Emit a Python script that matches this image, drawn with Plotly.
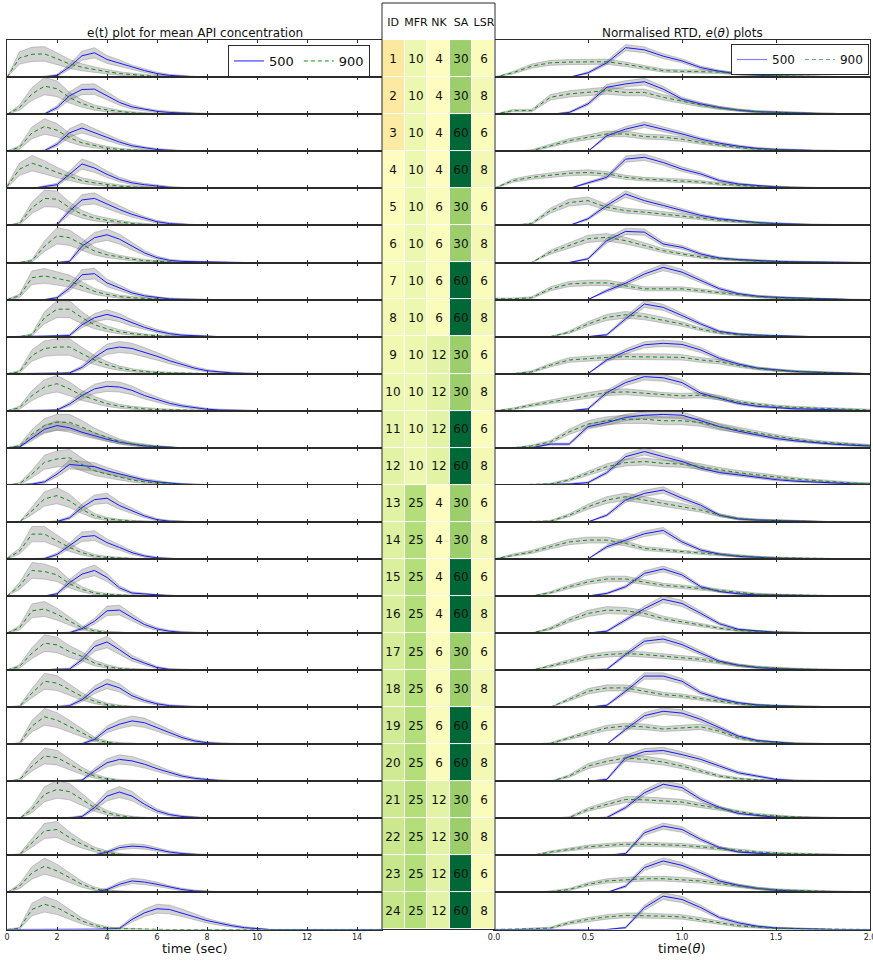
import plotly.graph_objects as go

# ---------------- data ----------------
# time grids (left: seconds, right: normalised time theta)
T_SEC = [i * 0.5 for i in range(31)]          # 0 .. 15 s
THETA = [round(i * 0.1, 1) for i in range(21)]  # 0 .. 2.0

# e(t), percent of panel height, sampled at t = 0, 0.5, ..., 10 s (zero afterwards)
ET_500 = [
    [0,0,0,1,5,28,58,66,48,38,26,18,10,5,3,1,0,0,0,0,0],
    [0,0,0,1,18,50,67,68,50,32,20,13,8,5,3,2,1,0,0,0,0],
    [0,0,0,2,19,50,63,50,37,25,15,9,5,3,1,0,0,0,0,0,0],
    [0,0,0,5,10,38,66,55,38,24,15,10,6,3,1,0,0,0,0,0,0],
    [0,0,0,0,2,39,69,73,57,43,30,19,10,5,3,1,0,0,0,0,0],
    [0,0,0,0,0,3,44,67,75,63,44,26,13,6,3,2,1,0,0,0,0],
    [0,0,0,0,5,31,67,70,45,31,18,10,5,2,1,0,0,0,0,0,0],
    [0,0,0,0,2,3,32,51,60,51,37,25,15,8,4,2,1,0,0,0,0],
    [0,0,0,0,0,2,17,44,66,72,68,58,47,35,24,15,8,4,2,1,0],
    [0,0,0,0,2,18,41,59,66,64,55,41,30,20,13,8,4,2,1,0,0],
    [0,2,26,50,60,54,42,32,23,15,9,5,3,1,0,0,0,0,0,0,0],
    [0,0,2,8,29,55,52,49,38,29,20,13,8,4,2,1,0,0,0,0,0],
    [0,0,0,0,1,11,39,60,64,44,30,16,6,2,1,0,0,0,0,0,0],
    [0,0,0,1,12,35,60,63,44,31,17,8,3,1,0,0,0,0,0,0,0],
    [0,0,0,0,6,36,59,69,50,22,8,5,2,1,0,0,0,0,0,0,0],
    [0,0,0,0,0,1,12,32,60,62,42,23,11,5,2,1,0,0,0,0,0],
    [0,0,0,0,2,3,28,64,76,55,32,19,7,2,1,0,0,0,0,0,0],
    [0,0,0,0,1,4,20,47,63,52,31,18,9,4,2,1,0,0,0,0,0],
    [0,0,0,0,0,0,1,13,40,54,63,58,45,31,18,9,4,2,1,0,0],
    [0,0,0,0,0,1,3,28,50,59,55,46,34,23,14,8,4,2,1,0,0],
    [0,0,0,0,0,1,5,29,60,71,60,38,20,10,5,2,1,0,0,0,0],
    [0,0,0,0,0,0,0,1,9,21,25,23,16,9,5,2,1,0,0,0,0],
    [0,0,0,0,0,0,0,1,8,22,31,28,22,14,8,4,2,1,0,0,0],
    [0,0,0,0,0,0,0,0,1,3,27,45,56,54,45,34,24,16,10,5,2],
]
ET_900 = [
    [0,52,62,63,50,36,27,20,15,10,7,4,2,1,1,0,0,0,0,0,0],
    [0,18,55,76,69,45,29,18,12,7,4,2,1,0,0,0,0,0,0,0,0],
    [0,11,50,67,57,37,23,15,9,5,3,2,1,0,0,0,0,0,0,0,0],
    [5,52,68,57,43,31,21,15,10,6,4,2,1,0,0,0,0,0,0,0,0],
    [0,5,48,73,71,48,30,20,14,9,5,3,1,0,0,0,0,0,0,0,0],
    [0,0,5,44,72,67,49,31,21,14,9,5,3,1,0,0,0,0,0,0,0],
    [0,10,59,64,57,50,36,22,14,8,5,3,1,0,0,0,0,0,0,0,0],
    [0,0,5,51,74,74,51,32,21,13,8,4,2,1,0,0,0,0,0,0,0],
    [0,5,49,68,72,72,54,37,24,15,9,5,3,2,1,0,0,0,0,0,0],
    [0,8,41,64,73,59,41,29,19,12,8,5,3,2,1,0,0,0,0,0,0],
    [0,5,37,60,69,69,56,40,28,17,10,6,3,1,0,0,0,0,0,0,0],
    [0,3,29,61,70,73,55,38,29,20,13,8,5,2,1,0,0,0,0,0,0],
    [0,0,30,62,71,57,34,16,8,4,2,1,0,0,0,0,0,0,0,0,0],
    [1,21,67,67,49,31,17,8,4,2,1,0,0,0,0,0,0,0,0,0,0],
    [0,27,69,66,57,33,18,8,4,2,1,0,0,0,0,0,0,0,0,0,0],
    [0,14,60,65,51,32,14,6,2,1,0,0,0,0,0,0,0,0,0,0,0],
    [0,10,46,73,68,50,37,19,10,4,2,1,0,0,0,0,0,0,0,0,0],
    [0,2,38,70,65,47,29,16,7,3,1,0,0,0,0,0,0,0,0,0,0],
    [0,2,49,74,65,49,31,13,5,2,1,0,0,0,0,0,0,0,0,0,0],
    [0,4,41,68,64,46,28,14,6,2,1,0,0,0,0,0,0,0,0,0,0],
    [0,0,24,65,78,72,51,29,15,7,3,1,0,0,0,0,0,0,0,0,0],
    [0,2,34,66,70,48,30,16,8,3,1,0,0,0,0,0,0,0,0,0,0],
    [0,17,53,71,58,40,22,10,4,2,1,0,0,0,0,0,0,0,0,0,0],
    [0,3,54,68,59,41,23,11,4,2,1,0,0,0,0,0,0,0,0,0,0],
]

# e(theta), percent of panel height, sampled at theta = 0, 0.1, ..., 2.0
ETH_500 = [
    [0,0,0,0,0,12,39,80,74,57,44,26,16,9,5,3,2,1,0,0,0],
    [0,0,0,0,5,28,73,82,88,68,41,28,18,11,7,5,3,2,1,0,0],
    [0,0,0,0,0,0,42,60,72,60,47,33,22,14,8,5,3,2,1,0,0],
    [0,0,0,0,0,15,30,79,84,70,52,39,21,12,7,4,2,1,0,0,0],
    [0,0,0,0,0,18,54,85,67,54,40,27,18,12,8,5,3,2,1,0,0],
    [0,0,0,0,0,10,59,84,82,50,41,23,12,8,5,3,2,1,0,0,0],
    [0,0,0,0,0,0,24,44,69,87,74,51,29,16,9,6,4,2,1,0,0],
    [0,0,0,0,0,0,5,48,88,79,57,34,14,7,4,2,1,0,0,0,0],
    [0,0,0,0,0,0,37,60,78,82,79,64,41,26,15,10,6,4,2,1,0],
    [0,0,0,0,0,5,49,76,92,89,76,47,33,20,12,8,5,4,2,1,0],
    [0,0,0,10,10,57,68,82,88,90,88,73,57,45,34,25,19,14,10,7,5],
    [0,0,0,0,2,6,33,76,90,76,63,45,33,27,20,14,10,7,5,3,2],
    [0,0,0,0,0,0,18,59,77,86,64,45,18,8,5,3,2,1,0,0,0],
    [0,0,0,0,0,0,33,51,68,77,46,24,13,7,4,2,1,0,0,0,0],
    [0,0,0,0,0,0,7,25,61,73,57,25,12,6,3,2,1,0,0,0,0],
    [0,0,0,0,0,0,5,35,66,91,80,53,25,10,5,2,1,0,0,0,0],
    [0,0,0,0,0,0,2,42,78,84,69,46,24,13,7,4,2,1,0,0,0],
    [0,0,0,0,0,0,5,43,84,84,70,39,23,12,6,3,2,1,0,0,0],
    [0,0,0,0,0,0,0,40,77,89,84,67,44,22,10,5,2,1,0,0,0],
    [0,0,0,0,0,0,5,63,80,83,72,59,41,23,14,5,2,1,0,0,0],
    [0,0,0,0,0,0,2,29,69,92,83,51,29,13,7,3,2,1,0,0,0],
    [0,0,0,0,0,0,0,5,61,79,70,43,21,9,5,3,2,1,0,0,0],
    [0,0,0,0,0,0,0,17,67,85,73,53,31,19,11,6,3,2,1,0,0],
    [0,0,0,0,0,0,0,5,59,90,81,59,32,18,9,4,2,1,0,0,0],
]
ETH_900 = [
    [0,12,30,39,41,42,42,35,26,18,16,16,14,9,6,4,3,2,1,1,0],
    [0,10,10,46,55,59,64,59,59,46,35,25,17,11,7,5,3,2,1,0,0],
    [0,0,2,15,29,38,47,47,40,38,33,24,16,10,6,4,2,1,0,0,0],
    [0,21,30,36,41,43,39,30,25,23,21,17,12,8,5,3,2,1,0,0,0],
    [0,0,5,40,62,67,49,40,36,31,27,20,14,10,6,4,2,1,0,0,0],
    [0,0,0,28,46,64,68,59,46,32,23,15,10,6,4,2,1,0,0,0,0],
    [2,2,5,29,42,45,45,38,29,29,29,24,18,12,8,5,3,2,1,0,0],
    [0,0,0,0,12,34,52,59,54,45,34,20,10,5,3,1,0,0,0,0,0],
    [0,0,5,23,37,41,44,46,46,46,44,37,32,22,14,9,6,4,2,1,0],
    [0,5,15,24,33,42,49,51,47,42,40,42,35,24,17,12,9,7,5,3,2],
    [0,0,5,16,43,64,73,77,77,73,73,68,57,48,39,30,23,17,13,9,6],
    [0,0,0,2,13,31,49,60,63,58,56,49,40,33,27,21,16,12,8,5,3],
    [0,0,0,2,18,41,59,68,59,50,43,32,18,9,5,3,2,1,0,0,0],
    [0,10,19,33,46,51,51,42,28,24,19,16,12,8,5,3,2,1,0,0,0],
    [0,0,0,9,25,38,46,46,38,29,25,20,14,9,5,3,2,1,0,0,0],
    [0,0,0,12,35,53,62,60,53,39,30,21,13,7,4,2,1,0,0,0,0],
    [0,0,0,11,24,36,42,45,42,38,33,29,21,13,8,5,3,2,1,0,0],
    [0,0,0,0,21,43,52,52,43,34,30,23,15,9,5,3,2,1,0,0,0],
    [0,0,0,2,17,31,44,49,47,41,44,47,35,17,8,4,2,1,0,0,0],
    [0,0,0,0,14,41,54,63,59,52,41,28,14,7,3,1,0,0,0,0,0],
    [0,0,0,0,2,24,38,51,50,47,44,35,26,17,10,6,3,2,1,0,0],
    [0,0,0,9,16,23,27,30,30,29,27,23,18,13,9,6,4,3,2,1,0],
    [0,0,0,2,8,22,31,35,37,37,35,31,24,17,11,7,5,3,2,1,0],
    [0,0,2,4,18,27,34,38,38,36,34,27,18,10,6,3,2,1,0,0,0],
]

# relative / absolute spread of the grey uncertainty bands (fraction of panel)
BAND_SPREAD = {"et500": (0.18, 0.02), "et900": (0.28, 0.02),
               "eth500": (0.08, 0.02), "eth900": (0.12, 0.02)}

# design table
TABLE_COLS = ["ID", "MFR", "NK", "SA", "LSR"]
IDS = list(range(1, 25))
MFR = [10] * 12 + [25] * 12
NK = [4, 4, 4, 4, 6, 6, 6, 6, 12, 12, 12, 12] * 2
SA = [30, 30, 60, 60] * 6
LSR = [6, 8] * 12
SERIES = ["500", "900"]

# ---------------- style ----------------
W, H = 873, 961
FONT = "DejaVu Sans"
BLUE = "rgb(25,25,255)"
GREEN = "rgb(20,140,20)"
BLUE_LEG2 = "rgb(130,130,255)"
GREEN_LEG2 = "rgb(110,170,110)"
BAND_FILL = "rgba(120,120,120,0.33)"
BAND_EDGE = "rgba(80,80,80,0.45)"
FRAME = "#2b2b2b"
TABLE_CMAP_STOPS = [(1, "#fde8a0"), (3, "#fdeaa3"), (4, "#fefcbe"), (6, "#fafcbb"),
                    (8, "#f3f9b4"), (10, "#ecf7af"), (12, "#e2f3a6"), (24, "#c6e68a"),
                    (25, "#b3de7a"), (30, "#9ccf6b"), (60, "#006837")]

ROW_TOP, ROW_BOT = 40.2, 929.5
N = len(IDS)
ROW_H = (ROW_BOT - ROW_TOP) / N
LEFT_X = (7, 382)
RIGHT_X = (494, 870)
TABLE_X = (382, 495)
TABLE_TOP = 3.0


def px_x(a, b):
    return [a / W, b / W]


def px_y(top, bot):
    return [1 - bot / H, 1 - top / H]


def pad(vals, n):
    return [v / 100.0 for v in vals] + [0.0] * (n - len(vals))


def band(vals, key):
    rel, ab = BAND_SPREAD[key]
    up = [v * (1 + rel) + (ab if v > 0 else 0) for v in vals]
    lo = [max(0.0, v * (1 - rel) - (ab if v > 0 else 0)) for v in vals]
    return up, lo


fig = go.Figure()
layout = {}

for r in range(N):
    top = ROW_TOP + r * ROW_H
    bot = top + ROW_H
    ydom = px_y(top, bot)
    last = r == N - 1
    for side in (0, 1):
        k = 2 * r + side + 1
        xa = "xaxis" if k == 1 else f"xaxis{k}"
        ya = "yaxis" if k == 1 else f"yaxis{k}"
        xr = "x" if k == 1 else f"x{k}"
        yr = "y" if k == 1 else f"y{k}"
        if side == 0:
            xs = T_SEC
            v5 = pad(ET_500[r], len(T_SEC))
            v9 = pad(ET_900[r], len(T_SEC))
            k5, k9 = "et500", "et900"
            ax = dict(domain=px_x(*LEFT_X), range=[0, 15], tickvals=list(range(0, 15, 2)),
                      ticktext=[str(v) for v in range(0, 15, 2)])
        else:
            xs = THETA
            v5 = pad(ETH_500[r], len(THETA))
            v9 = pad(ETH_900[r], len(THETA))
            k5, k9 = "eth500", "eth900"
            ax = dict(domain=px_x(*RIGHT_X), range=[0, 2], tickvals=[0, 0.5, 1, 1.5, 2],
                      ticktext=["0.0", "0.5", "1.0", "1.5", "2.0"])
        layout[xa] = dict(**ax, anchor=yr, showline=True, linecolor=FRAME, linewidth=1,
                          mirror="ticks", ticks="inside", ticklen=3, tickcolor=FRAME,
                          showgrid=False, zeroline=False, showticklabels=last,
                          automargin=False, ticklabeloverflow="allow",
                          tickfont=dict(size=8, family=FONT, color="#222"), fixedrange=True)
        layout[ya] = dict(domain=ydom, range=[0, 1.0], anchor=xr, showline=True,
                          linecolor=FRAME, linewidth=1, mirror=True, ticks="",
                          automargin=False,
                          showticklabels=False, showgrid=False, zeroline=False, fixedrange=True)
        # bands
        for vals, key in ((v9, k9), (v5, k5)):
            up, lo = band(vals, key)
            fig.add_trace(go.Scatter(x=xs, y=up, xaxis=xr, yaxis=yr, mode="lines",
                                     line=dict(color=BAND_EDGE, width=0.6),
                                     showlegend=False, hoverinfo="skip"))
            fig.add_trace(go.Scatter(x=xs, y=lo, xaxis=xr, yaxis=yr, mode="lines",
                                     line=dict(color=BAND_EDGE, width=0.6), fill="tonexty",
                                     fillcolor=BAND_FILL, showlegend=False, hoverinfo="skip"))
        # mean curves
        show = (r == 0 and side == 0)
        fig.add_trace(go.Scatter(x=xs, y=v5, xaxis=xr, yaxis=yr, mode="lines", name=SERIES[0],
                                 line=dict(color=BLUE, width=1), legend="legend",
                                 showlegend=show, hoverinfo="skip"))
        fig.add_trace(go.Scatter(x=xs, y=v9, xaxis=xr, yaxis=yr, mode="lines", name=SERIES[1],
                                 line=dict(color=GREEN, width=1, dash="4px,3px"), legend="legend",
                                 showlegend=show, hoverinfo="skip"))

# ---------------- table (heatmap) ----------------
tk = 2 * N + 1
txa, tya = f"xaxis{tk}", f"yaxis{tk}"
txr, tyr = f"x{tk}", f"y{tk}"
layout[txa] = dict(domain=px_x(*TABLE_X), range=[-0.5, 4.5], visible=False, fixedrange=True,
                   anchor=tyr, automargin=False)
layout[tya] = dict(domain=px_y(TABLE_TOP, ROW_BOT), range=[N + 0.5, -0.5], visible=False,
                   fixedrange=True, anchor=txr, automargin=False)

cols = [IDS, MFR, NK, SA, LSR]
z = [[cols[c][r] for c in range(5)] for r in range(N)]
zmin, zmax = TABLE_CMAP_STOPS[0][0], TABLE_CMAP_STOPS[-1][0]
cscale = [[(v - zmin) / (zmax - zmin), c] for v, c in TABLE_CMAP_STOPS]

fig.add_trace(go.Heatmap(x=list(range(5)), y=[0], z=[[0] * 5],
                         text=[TABLE_COLS], texttemplate="%{text}",
                         textfont=dict(size=11, family=FONT, color="#111"),
                         colorscale=[[0, "white"], [1, "white"]], showscale=False,
                         xgap=1, ygap=1, xaxis=txr, yaxis=tyr, hoverinfo="skip"))
fig.add_trace(go.Heatmap(x=list(range(5)), y=list(range(1, N + 1)), z=z,
                         text=[[str(v) for v in row] for row in z], texttemplate="%{text}",
                         textfont=dict(size=12, family=FONT, color="#111"),
                         colorscale=cscale, zmin=zmin, zmax=zmax, showscale=False,
                         xgap=1, ygap=1, xaxis=txr, yaxis=tyr, hoverinfo="skip"))

# legend entries for the right-hand panels (empty traces carrying only the legend style)
fig.add_trace(go.Scatter(x=[None], y=[None], xaxis="x2", yaxis="y2", mode="lines",
                         name=SERIES[0], line=dict(color=BLUE_LEG2, width=1.2),
                         legend="legend2", showlegend=True, hoverinfo="skip"))
fig.add_trace(go.Scatter(x=[None], y=[None], xaxis="x2", yaxis="y2", mode="lines",
                         name=SERIES[1], line=dict(color=GREEN_LEG2, width=1.2, dash="4px,3px"),
                         legend="legend2", showlegend=True, hoverinfo="skip"))

shapes = [
    dict(type="rect", xref=f"{txr} domain", yref=f"{tyr} domain", x0=0, x1=1, y0=0, y1=1,
         fillcolor=FRAME, line=dict(width=0), layer="below"),
    dict(type="rect", xref=f"{txr} domain", yref=f"{tyr} domain", x0=0, x1=1, y0=0, y1=1,
         fillcolor="rgba(0,0,0,0)", line=dict(width=1, color=FRAME), layer="above"),
]

annotations = [
    dict(text="e(t) plot for mean API concentration", x=sum(LEFT_X) / 2 / W, y=1 - 33 / H,
         xref="paper", yref="paper", showarrow=False, xanchor="center", yanchor="middle",
         font=dict(size=12, family=FONT, color="#111")),
    dict(text="Normalised RTD, <i>e</i>(<i>θ</i>) plots", x=682 / W, y=1 - 33 / H,
         xref="paper", yref="paper", showarrow=False, xanchor="center", yanchor="middle",
         font=dict(size=12, family=FONT, color="#111")),
    dict(text="time (sec)", x=sum(LEFT_X) / 2 / W, y=1 - 948 / H, xref="paper", yref="paper",
         showarrow=False, xanchor="center", yanchor="middle",
         font=dict(size=13, family=FONT, color="#111")),
    dict(text="time(<i>θ</i>)", x=sum(RIGHT_X) / 2 / W, y=1 - 948 / H, xref="paper",
         yref="paper", showarrow=False, xanchor="center", yanchor="middle",
         font=dict(size=13, family=FONT, color="#111")),
]

fig.update_layout(
    **layout,
    width=W, height=H, autosize=False,
    margin=dict(l=0, r=0, t=0, b=0, autoexpand=False),
    paper_bgcolor="white", plot_bgcolor="white",
    font=dict(family=FONT, color="#111"),
    shapes=shapes, annotations=annotations,
    legend=dict(x=228 / W, y=1 - 45 / H, xanchor="left", yanchor="top", orientation="h",
                traceorder="normal", bgcolor="white", bordercolor=FRAME, borderwidth=1,
                font=dict(size=13, family=FONT, color="#111"), tracegroupgap=0),
    legend2=dict(x=731 / W, y=1 - 44 / H, xanchor="left", yanchor="top", orientation="h",
                 traceorder="normal", bgcolor="white", bordercolor=FRAME, borderwidth=1,
                 font=dict(size=12, family=FONT, color="#111"), tracegroupgap=0),
)

fig.write_html(
    "out.html",
    config={"displayModeBar": False, "staticPlot": True},
    post_script="document.body.style.margin='0';document.body.style.padding='0';"
                "document.body.style.overflow='hidden';",
)
